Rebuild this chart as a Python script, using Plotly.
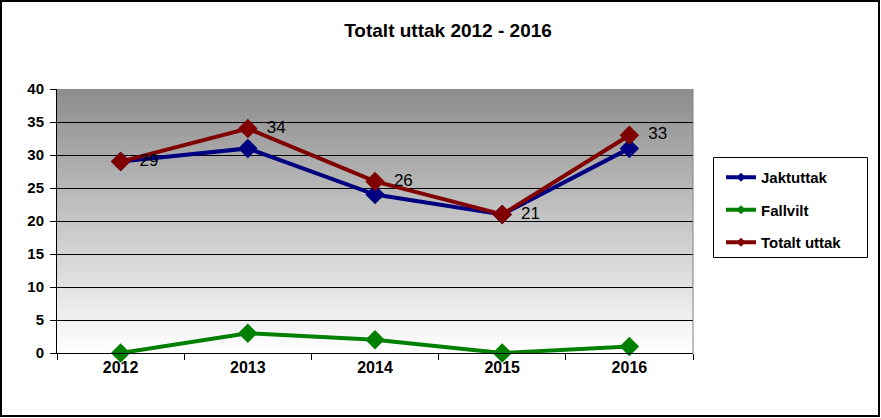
import plotly.graph_objects as go

years = ["2012", "2013", "2014", "2015", "2016"]
jaktuttak = [29, 31, 24, 21, 31]
fallvilt = [0, 3, 2, 0, 1]
totalt = [29, 34, 26, 21, 33]

W, H = 881, 418
L, R, T, B = 57, 188, 89, 65
pw, ph = W - L - R, H - T - B

FONT = "Liberation Sans, Arial, sans-serif"

def px_x(p):
    return (p - L) / pw

def px_y(p):
    return (T + ph - p) / ph

fig = go.Figure()

series = [("Jaktuttak", jaktuttak, "#000080"),
          ("Fallvilt", fallvilt, "#008000"),
          ("Totalt uttak", totalt, "#800000")]

for name, y, color in series:
    fig.add_trace(go.Scatter(
        x=years, y=y, name=name, mode="lines+markers",
        line=dict(color=color, width=4),
        marker=dict(symbol="diamond", size=15, color=color),
        showlegend=False, cliponaxis=False,
    ))

# data labels for total
fig.add_trace(go.Scatter(
    x=years, y=totalt, mode="text", showlegend=False, hoverinfo="skip",
    text=["\u00a0\u00a0\u00a0\u00a0" + str(v) for v in totalt],
    textposition="middle right", cliponaxis=False,
    textfont=dict(family=FONT, size=17, color="black"),
))

# legend entries with small markers
for name, y, color in series:
    fig.add_trace(go.Scatter(
        x=[None], y=[None], name=name, mode="lines+markers",
        line=dict(color=color, width=4),
        marker=dict(symbol="diamond", size=7, color=color),
        legendgroup=name, showlegend=True,
    ))

# gradient background stripes
shapes = []
n = 80
top = (140, 140, 140)
bot = (255, 255, 255)
for i in range(n):
    f = (i + 0.5) / n
    c = tuple(int(round(bot[k] + (top[k] - bot[k]) * f)) for k in range(3))
    shapes.append(dict(type="rect", xref="paper", yref="paper",
                       x0=0, x1=1, y0=i / n, y1=min(1, (i + 1) / n + 0.004),
                       fillcolor="rgb(%d,%d,%d)" % c, line=dict(width=0), layer="below"))
# right border of plot area
shapes.append(dict(type="line", xref="paper", yref="paper", x0=1, x1=1, y0=0, y1=1,
                   line=dict(color="#808080", width=1), layer="above"))
# legend box
shapes.append(dict(type="rect", xref="paper", yref="paper",
                   x0=px_x(713.5), x1=px_x(867.5), y0=px_y(257.5), y1=px_y(157.5),
                   line=dict(color="black", width=1), fillcolor="rgba(0,0,0,0)", layer="above"))
# outer chart border
shapes.append(dict(type="rect", xref="paper", yref="paper",
                   x0=px_x(1), x1=px_x(W - 2), y0=px_y(H - 2), y1=px_y(1),
                   line=dict(color="black", width=2), fillcolor="rgba(0,0,0,0)", layer="above"))

fig.update_layout(
    width=W, height=H,
    margin=dict(l=L, r=R, t=T, b=B),
    paper_bgcolor="white", plot_bgcolor="rgba(0,0,0,0)",
    font=dict(family=FONT, color="black"),
    title=dict(text="<b>Totalt uttak 2012 - 2016</b>", x=448 / W, xanchor="center",
               y=1 - 30 / H, yanchor="middle", font=dict(family=FONT, size=19, color="black")),
    shapes=shapes,
    showlegend=True,
    legend=dict(x=px_x(721), xanchor="left", y=px_y(161), yanchor="top",
                borderwidth=0, bgcolor="rgba(0,0,0,0)",
                font=dict(family=FONT, size=15, color="black", weight="bold"),
                traceorder="grouped", tracegroupgap=10),
    xaxis=dict(type="category", range=[-0.5, 4.5], showgrid=False,
               showline=True, linecolor="black", linewidth=1,
               ticks="outside", tickson="boundaries", ticklen=6, tickcolor="black",
               tickfont=dict(family=FONT, size=16, color="black", weight="bold")),
    yaxis=dict(range=[0, 40], dtick=5, showgrid=True, gridcolor="black", gridwidth=1,
               showline=True, linecolor="black", linewidth=1, zeroline=False,
               ticks="outside", ticklen=6, tickcolor="black", ticklabelstandoff=3,
               tickfont=dict(family=FONT, size=15, color="black", weight="bold")),
)

fig.write_html("out.html")
